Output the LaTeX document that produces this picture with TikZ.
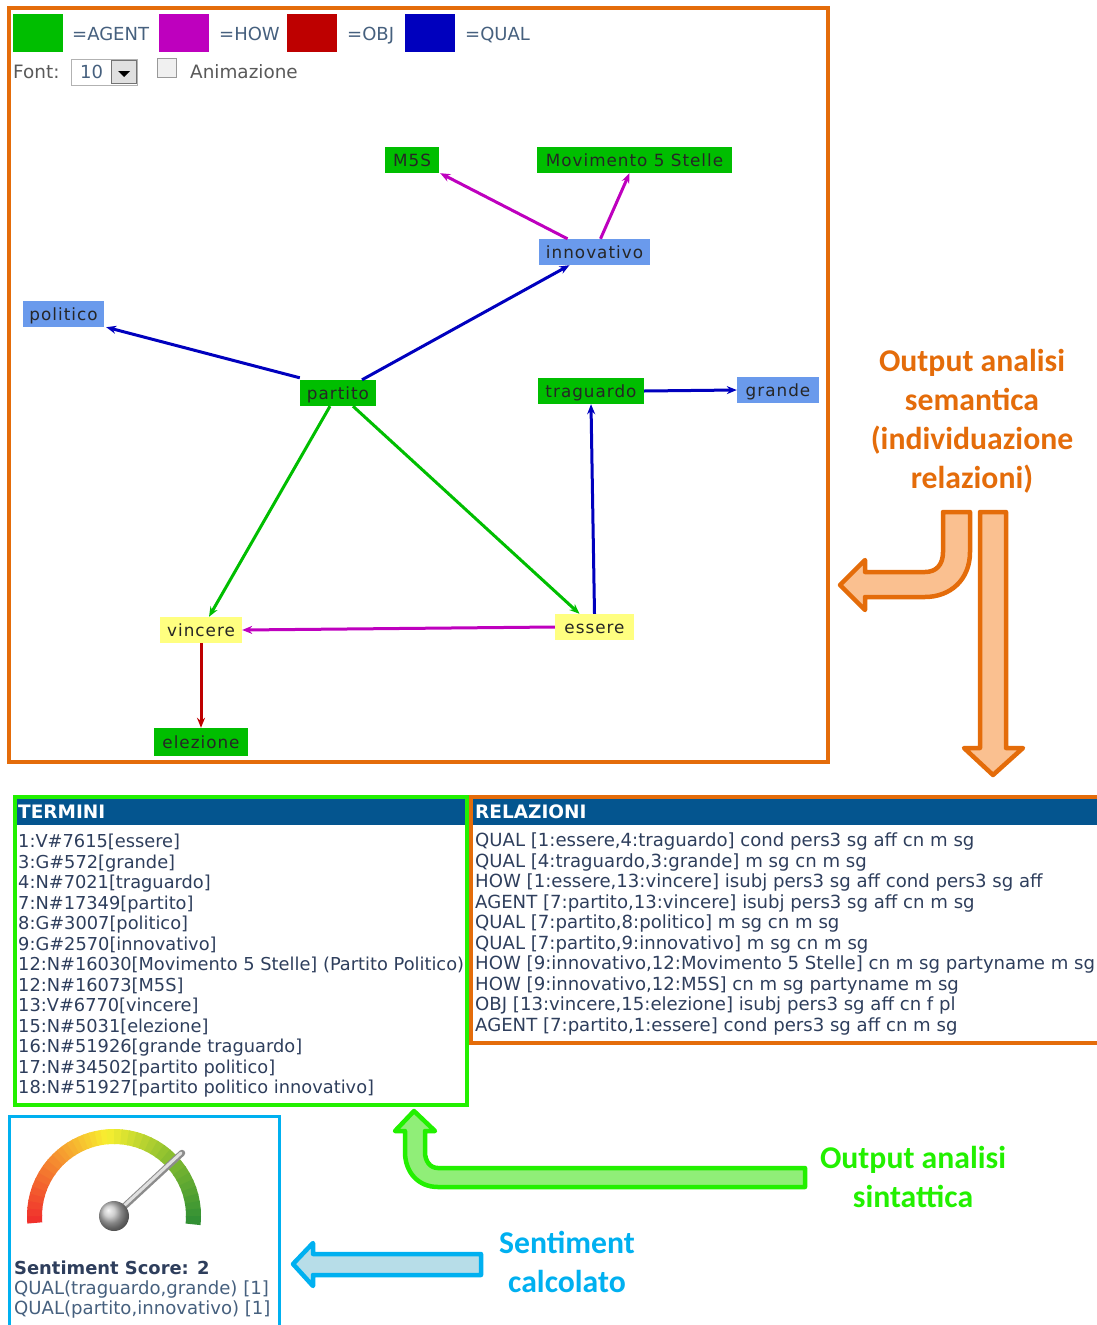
\documentclass[tikz,border=0pt]{standalone}
\usepackage{fontspec}
\setmainfont{DejaVu Sans}
\newfontfamily\labelfont{Carlito}
\newfontfamily\graphfont[LetterSpace=6]{DejaVu Sans}
\definecolor{frameor}{HTML}{E46C0A}
\definecolor{fillor}{HTML}{FAC090}
\definecolor{framegr}{HTML}{22F000}
\definecolor{fillgr}{HTML}{90EE78}
\definecolor{framebl}{HTML}{00B0F0}
\definecolor{fillbl}{HTML}{B7DDE8}
\definecolor{agentc}{HTML}{00BE00}
\definecolor{howc}{HTML}{BE00BE}
\definecolor{objc}{HTML}{BE0000}
\definecolor{qualc}{HTML}{0000BE}
\definecolor{nodeblue}{HTML}{6A9AEC}
\definecolor{nodeyel}{HTML}{FFFF80}
\definecolor{slate}{HTML}{46607E}
\definecolor{tabletxt}{HTML}{2E3E5C}
\definecolor{headblue}{HTML}{04558F}
\definecolor{gred}{HTML}{F02C2C}
\definecolor{gora}{HTML}{F59030}
\definecolor{gyel}{HTML}{F8F030}
\definecolor{glime}{HTML}{84BC30}
\definecolor{ggrn}{HTML}{2E8E34}
\usetikzlibrary{arrows.meta}
\tikzset{
  swatch/.style={minimum width=50pt,minimum height=38pt,inner sep=0pt},
  legendtxt/.style={anchor=base west,inner sep=0pt,text=slate,font=\fontsize{18}{20}\selectfont},
  uitxt/.style={anchor=base west,inner sep=0pt,text=black!65,font=\fontsize{18.4}{20}\selectfont},
  gnode/.style={inner sep=0pt,minimum height=26pt,text height=13pt,text depth=1pt,text=black!85,font=\graphfont\fontsize{16.8}{18}\selectfont},
  agentnode/.style={gnode,fill=agentc},
  qualnode/.style={gnode,fill=nodeblue},
  yelnode/.style={gnode,fill=nodeyel},
  edge/.style={-{Stealth[length=10pt,width=8pt]},line width=3pt},
  termtext/.style={anchor=north west,inner sep=0pt,align=left,text=tabletxt,font=\fontsize{17.8}{20.5}\selectfont},
  reltext/.style={anchor=north west,inner sep=0pt,align=left,text=tabletxt,font=\fontsize{18.1}{20.5}\selectfont},
  headtext/.style={anchor=west,inner sep=0pt,text=white,font=\bfseries\fontsize{18.5}{20}\selectfont},
  scoretext/.style={anchor=west,inner sep=0pt,text=slate,font=\fontsize{18.1}{20}\selectfont},
  bigor/.style={draw=frameor,fill=fillor,line width=4.5pt,line join=round},
  biggr/.style={draw=framegr,fill=fillgr,line width=4.5pt,line join=round},
  bigbl/.style={draw=framebl,fill=fillbl,line width=4.5pt,line join=round},
  caption/.style={align=center,inner sep=0pt,font=\labelfont\bfseries\fontsize{31.7}{39}\selectfont},
}
\begin{document}
\begin{tikzpicture}[x=1pt,y=-1pt]
\useasboundingbox (0,0) rectangle (1097,1325);
% top frame
\draw[frameor,line width=3.5pt] (9,8) rectangle (828,762);
% legend
\node[swatch,fill=agentc] (sa) at (38,33) {};
\node[legendtxt] (ta) at (72,40) {=AGENT};
\node[swatch,fill=howc] (sh) at (184,33) {};
\node[legendtxt] (th) at (219,40) {=HOW};
\node[swatch,fill=objc] (so) at (312,33) {};
\node[legendtxt] (to) at (347,40) {=OBJ};
\node[swatch,fill=qualc] (sq) at (430,33) {};
\node[legendtxt] (tq) at (465,40) {=QUAL};
% controls
\node[uitxt] (fontlab) at (13,78) {Font:};
\node[draw=black!30,line width=1pt,minimum width=66pt,minimum height=26pt,inner sep=0pt] (selbox) at (104.5,72) {};
\node[legendtxt] (selval) at (80,78) {10};
\node[draw=black!55,fill=black!12,line width=1.2pt,minimum width=25pt,minimum height=23pt,inner sep=0pt] (selbtn) at (124,72) {};
\fill[black] (118,71) -- (130,71) -- (124,77) -- cycle;
\node[draw=black!40,fill=black!6,line width=1pt,minimum width=19pt,minimum height=19pt,inner sep=0pt] (chk) at (167,68) {};
\node[uitxt] (anim) at (190,78) {Animazione};
% graph nodes
\node[agentnode,minimum width=54pt] (m5s) at (412,160) {M5S};
\node[agentnode,minimum width=195pt] (mov) at (634.5,160) {Movimento 5 Stelle};
\node[qualnode,minimum width=111pt] (inn) at (594.5,252) {innovativo};
\node[qualnode,minimum width=81pt] (pol) at (63.5,314) {politico};
\node[agentnode,minimum width=76pt] (par) at (338,393) {partito};
\node[agentnode,minimum width=106pt] (tra) at (591,391) {traguardo};
\node[qualnode,minimum width=82pt] (gra) at (778,390) {grande};
\node[yelnode,minimum width=79pt] (ess) at (594.5,627) {essere};
\node[yelnode,minimum width=82pt] (vin) at (201,630) {vincere};
\node[agentnode,minimum width=94pt,minimum height=28pt] (ele) at (201,742) {elezione};
% graph edges
\draw[edge,howc] ([xshift=-27pt]inn.north) -- ([xshift=1pt]m5s.south east);
\draw[edge,howc] ([xshift=6pt]inn.north) -- ([xshift=-5pt]mov.south);
\draw[edge,qualc] ([xshift=24pt]par.north) -- ([xshift=-25pt]inn.south);
\draw[edge,qualc] ([yshift=2pt]par.north west) -- ([xshift=2pt]pol.south east);
\draw[edge,agentc] ([xshift=-8pt]par.south) -- ([xshift=8pt]vin.north);
\draw[edge,agentc] ([xshift=15pt]par.south) -- ([xshift=-15pt]ess.north);
\draw[edge,qualc] (ess.north) -- (tra.south);
\draw[edge,qualc] (tra.east) -- (gra.west);
\draw[edge,howc] (ess.west) -- (vin.east);
\draw[edge,objc] (vin.south) -- (ele.north);
% big arrows orange
\draw[bigor] (943,512) -- (970,512) -- (970,552) .. controls (970,580) and (950,597) .. (925,597) -- (865,597) -- (865,610) -- (840,585) -- (865,560) -- (865,572) -- (925,572) .. controls (936,572) and (943,565) .. (943,552) -- cycle;
\draw[bigor] (980,512) -- (1006,512) -- (1006,748) -- (1023,748) -- (993,775) -- (964,748) -- (980,748) -- cycle;
\node[caption,text=frameor] (capsem) at (972,421) {Output analisi\\semantica\\(individuazione\\relazioni)};
% termini table
\fill[headblue] (15,799) rectangle (467,825);
\draw[framegr,line width=3.5pt] (15,797) rectangle (467,1105);
\node[headtext] (termh) at (18,812) {TERMINI};
\node[termtext] (term) at (18,834) {1:V\#7615[essere]\\3:G\#572[grande]\\4:N\#7021[traguardo]\\7:N\#17349[partito]\\8:G\#3007[politico]\\9:G\#2570[innovativo]\\12:N\#16030[Movimento 5 Stelle] (Partito Politico)\\12:N\#16073[M5S]\\13:V\#6770[vincere]\\15:N\#5031[elezione]\\16:N\#51926[grande traguardo]\\17:N\#34502[partito politico]\\18:N\#51927[partito politico innovativo]};
% relazioni table
\fill[headblue] (471,799) rectangle (1100,825);
\draw[frameor,line width=3.5pt] (1104,797) -- (471,797) -- (471,1043) -- (1104,1043);
\node[headtext] (relh) at (475,812) {RELAZIONI};
\node[reltext] (rel) at (475,833) {QUAL [1:essere,4:traguardo] cond pers3 sg aff cn m sg\\QUAL [4:traguardo,3:grande] m sg cn m sg\\HOW [1:essere,13:vincere] isubj pers3 sg aff cond pers3 sg aff\\AGENT [7:partito,13:vincere] isubj pers3 sg aff cn m sg\\QUAL [7:partito,8:politico] m sg cn m sg\\QUAL [7:partito,9:innovativo] m sg cn m sg\\HOW [9:innovativo,12:Movimento 5 Stelle] cn m sg partyname m sg\\HOW [9:innovativo,12:M5S] cn m sg partyname m sg\\OBJ [13:vincere,15:elezione] isubj pers3 sg aff cn f pl\\AGENT [7:partito,1:essere] cond pers3 sg aff cn m sg};
% green arrow
\draw[biggr] (805,1168) -- (805,1187) -- (438,1187) .. controls (418,1187) and (405,1172) .. (405,1152) -- (405,1131) -- (395,1131) -- (414,1111) -- (435,1131) -- (425,1131) -- (425,1152) .. controls (425,1161) and (430,1168) .. (438,1168) -- cycle;
\node[caption,text=framegr] (capsin) at (913,1177) {Output analisi\\sintattica};
% sentiment box
\draw[framebl,line width=3pt] (9,1330) -- (9,1116) -- (279,1116) -- (279,1330);
\begin{scope}[shift={(114,1216)}]
\foreach \aA/\aB/\cA/\cB in {185/135/gred/gora,135/95/gora/gyel,95/45/gyel/glime,45/-5/glime/ggrn}{
  \foreach \t in {0,...,9}{
    \pgfmathsetmacro\sa{\aA+(\aB-\aA)*\t/10}
    \pgfmathsetmacro\ea{\aA+(\aB-\aA)*(\t+1.2)/10}
    \pgfmathsetmacro\mx{(\t+.5)*10}
    \fill[\cB!\mx!\cA] (\sa:87pt) arc[start angle=\sa,end angle=\ea,radius=87pt] -- (\ea:72pt) arc[start angle=\ea,end angle=\sa,radius=72pt] -- cycle;
  }
}
\end{scope}
\draw[line width=6.5pt,black!45,line cap=round] (114,1216) -- (182,1153);
\draw[line width=3pt,black!12,line cap=round] (114,1215) -- (181,1153);
\shade[ball color=black!25] (114,1216) circle[radius=15pt];
\node[anchor=west,inner sep=0pt,text=tabletxt,font=\bfseries\fontsize{17.9}{20}\selectfont] (score) at (14,1268) {Sentiment Score: 2};
\node[scoretext] (q1) at (14,1289) {QUAL(traguardo,grande) [1]};
\node[scoretext] (q2) at (14,1309) {QUAL(partito,innovativo) [1]};
% blue arrow
\draw[bigbl] (481,1254) -- (481,1275) -- (313,1275) -- (313,1286) -- (293,1264) -- (313,1243) -- (313,1254) -- cycle;
\node[caption,text=framebl] (capsen) at (567,1262) {Sentiment\\calcolato};
\end{tikzpicture}
\end{document}
